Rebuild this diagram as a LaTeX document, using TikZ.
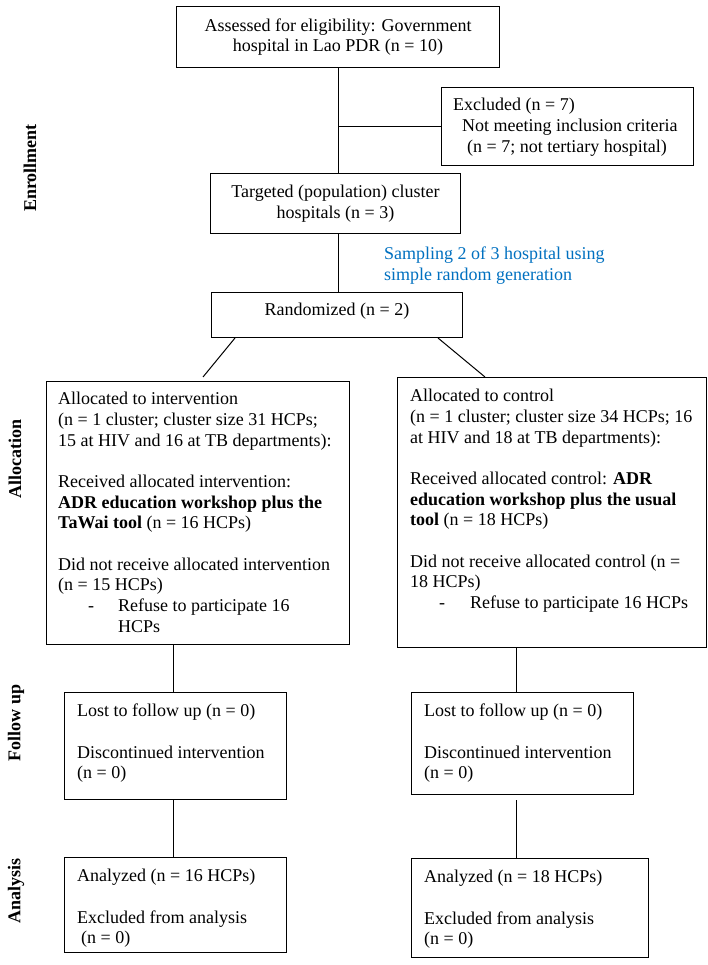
\documentclass[tikz,border=0pt]{standalone}
\usepackage{fontspec}
\setmainfont{Liberation Serif}
\usetikzlibrary{calc}
\definecolor{sampblue}{RGB}{0,112,192}
\begin{document}
\begin{tikzpicture}[x=1pt,y=-1pt,
  box/.style={draw, line width=1pt, rectangle, inner sep=0pt, anchor=north west},
  txt/.style={font=\fontsize{18}{20.7}\selectfont, inner sep=0pt, align=left, anchor=north west},
  ctxt/.style={font=\fontsize{18}{20.7}\selectfont, inner sep=0pt, align=center},
  side/.style={font=\fontsize{18}{20.7}\selectfont\bfseries, rotate=90, inner sep=0pt},
  conn/.style={line width=1pt}]
\useasboundingbox (0,0) rectangle (708,965);

% boxes
\node[box, minimum width=323pt, minimum height=61pt] (assess) at (176,6) {};
\node[box, minimum width=252pt, minimum height=78pt] (excl) at (441,87) {};
\node[box, minimum width=250pt, minimum height=60pt] (target) at (210,173) {};
\node[box, minimum width=251pt, minimum height=45pt] (rand) at (211,292) {};
\node[box, minimum width=303pt, minimum height=263pt] (allocL) at (46,381) {};
\node[box, minimum width=309pt, minimum height=270pt] (allocR) at (397,377) {};
\node[box, minimum width=222pt, minimum height=107pt] (followL) at (64,692) {};
\node[box, minimum width=222pt, minimum height=102pt] (followR) at (411,692) {};
\node[box, minimum width=222pt, minimum height=95pt] (analL) at (64,857) {};
\node[box, minimum width=237pt, minimum height=99pt] (analR) at (411,858) {};

% texts
\node[ctxt] (assessT) at (assess.center) {Assessed for eligibility: Government\\hospital in Lao PDR (n = 10)};
\node[txt] (exclT) at (453,98) {Excluded (n = 7)\\\hspace*{9pt}Not meeting inclusion criteria\\\hspace*{14pt}(n = 7; not tertiary hospital)};
\node[ctxt] (targetT) at (target.center) {Targeted (population) cluster\\hospitals (n = 3)};
\node[txt, text=sampblue] (sampT) at (384,247) {Sampling 2 of 3 hospital using\\simple random generation};
\node[ctxt] (randT) at ($(rand.north)+(0,19)$) {Randomized (n = 2)};

\node[txt] (allocLT) at (58,392) {Allocated to intervention\\(n = 1 cluster; cluster size 31 HCPs;\\15 at HIV and 16 at TB departments):\\[20.7pt]Received allocated intervention:\\\textbf{ADR education workshop plus the}\\\textbf{TaWai tool} (n = 16 HCPs)\\[20.7pt]Did not receive allocated intervention\\(n = 15 HCPs)\\\hspace*{30pt}\makebox[30pt][l]{-}Refuse to participate 16\\\hspace*{60pt}HCPs};

\node[txt] (allocRT) at (410,389) {Allocated to control\\(n = 1 cluster; cluster size 34 HCPs; 16\\at HIV and 18 at TB departments):\\[20.7pt]Received allocated control: \textbf{ADR}\\\textbf{education workshop plus the usual}\\\textbf{tool} (n = 18 HCPs)\\[20.7pt]Did not receive allocated control (n =\\18 HCPs)\\\hspace*{29pt}\makebox[31pt][l]{-}Refuse to participate 16 HCPs};

\node[txt] (followLT) at (77,704) {Lost to follow up (n = 0)\\[20.7pt]Discontinued intervention\\(n = 0)};
\node[txt] (followRT) at (424,704) {Lost to follow up (n = 0)\\[20.7pt]Discontinued intervention\\(n = 0)};
\node[txt] (analLT) at (77,869) {Analyzed (n = 16 HCPs)\\[20.7pt]Excluded from analysis\\\hspace*{4pt}(n = 0)};
\node[txt] (analRT) at (424,870) {Analyzed (n = 18 HCPs)\\[20.7pt]Excluded from analysis\\(n = 0)};

% side labels
\node[side] (enroll) at (30,168) {Enrollment};
\node[side] (alloc) at (15,459) {Allocation};
\node[side] (follow) at (16,723) {Follow up};
\node[side] (analysis) at (16,891) {Analysis};

% connectors
\draw[conn] (assess.south) -- (assess.south |- target.north);
\draw[conn] (excl.west) -- (excl.west -| assess.south);
\draw[conn] ($(target.south)+(3,0)$) coordinate (t1) -- (t1 |- rand.north);
\draw[conn] ($(rand.south west)+(24,0)$) -- ($(allocL.north west)+(157,-4)$);
\draw[conn] ($(rand.south west)+(227,0)$) -- ($(allocR.north west)+(88,0)$);
\draw[conn] ($(allocL.south west)+(127,0)$) coordinate (l1) -- (l1 |- followL.north);
\draw[conn] ($(allocR.south west)+(119,0)$) coordinate (r1) -- (r1 |- followR.north);
\draw[conn] (l1 |- followL.south) -- (l1 |- analL.north);
\draw[conn] ($(r1 |- followR.south)+(0,5)$) -- (r1 |- analR.north);
\end{tikzpicture}
\end{document}
